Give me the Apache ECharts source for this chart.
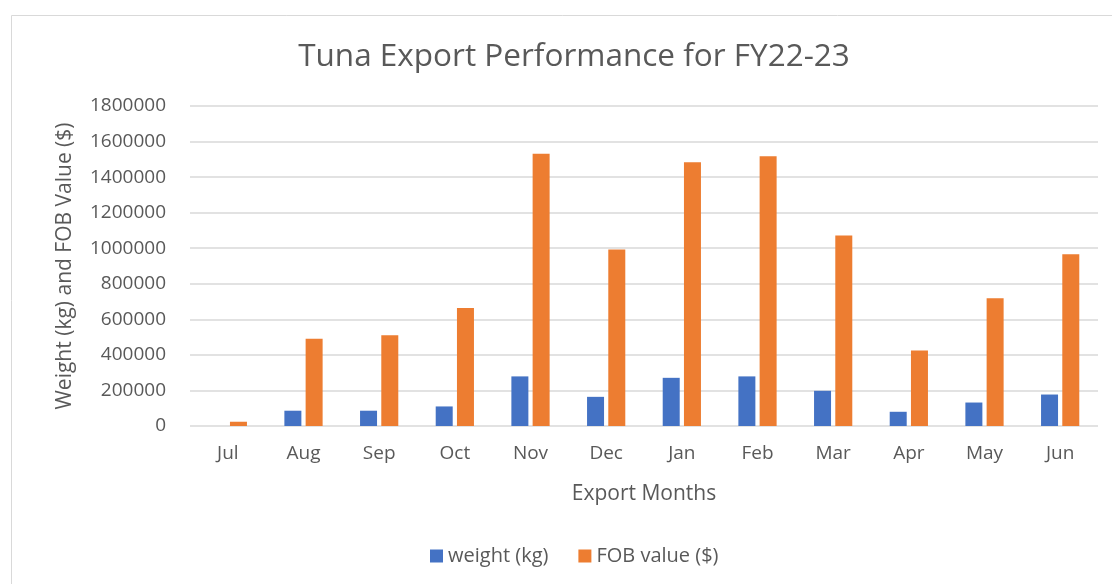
<!DOCTYPE html>
<html>
<head>
<meta charset="utf-8">
<script src="https://cdn.jsdelivr.net/npm/echarts@6/dist/echarts.min.js"></script>
<style>
  html, body { margin: 0; padding: 0; background: #fff; }
  #chart { width: 1112px; height: 584px; }
</style>
</head>
<body>
<div id="chart"></div>
<script>
const months = ["Jul", "Aug", "Sep", "Oct", "Nov", "Dec", "Jan", "Feb", "Mar", "Apr", "May", "Jun"];
const weightKg = [0, 86000, 86000, 110000, 279000, 164000, 271000, 279000, 198000, 80000, 132000, 177000];
const fobValue = [24000, 491000, 511000, 664000, 1531000, 993000, 1484000, 1518000, 1071000, 424000, 718000, 966000];

const font = "'Open Sans', 'Liberation Sans', sans-serif";
const textColor = "#595959";

const chart = echarts.init(document.getElementById("chart"));
chart.setOption({
  animation: false,
  textStyle: { fontFamily: font },
  graphic: [
    {
      type: "rect",
      shape: { x: 11.5, y: 15.5, width: 1110, height: 600 },
      style: { fill: "none", stroke: "#d9d9d9", lineWidth: 1 }
    }
  ],
  title: {
    text: "Tuna Export Performance for FY22-23",
    left: 569,
    textAlign: "center",
    top: 36,
    textStyle: { fontFamily: font, fontSize: 31.5, fontWeight: "normal", color: textColor }
  },
  legend: {
    bottom: 13,
    left: 425,
    itemWidth: 13,
    itemHeight: 13,
    itemGap: 30,
    icon: "rect",
    textStyle: { fontFamily: font, fontSize: 20, color: textColor },
    data: ["weight (kg)", "FOB value ($)"]
  },
  grid: { left: 190, right: 14, top: 106, bottom: 158 },
  xAxis: {
    type: "category",
    data: months,
    name: "Export Months",
    nameLocation: "middle",
    nameGap: 58,
    nameTextStyle: { fontFamily: font, fontSize: 21, color: textColor },
    axisLine: { show: false },
    axisTick: { show: false },
    axisLabel: { fontFamily: font, fontSize: 19, color: textColor, margin: 18 }
  },
  yAxis: {
    type: "value",
    min: 0,
    max: 1800000,
    interval: 200000,
    name: "Weight (kg) and FOB Value ($)",
    nameLocation: "middle",
    nameGap: 114,
    nameTextStyle: { fontFamily: font, fontSize: 21, color: textColor },
    axisLabel: { fontFamily: font, fontSize: 19, color: textColor, margin: 24, formatter: (v) => String(v) },
    splitLine: { lineStyle: { color: "#d9d9d9", width: 1.5 } }
  },
  series: [
    {
      name: "weight (kg)",
      type: "bar",
      data: weightKg,
      barWidth: 17,
      barGap: "25%",
      itemStyle: { color: "#4472C4" }
    },
    {
      name: "FOB value ($)",
      type: "bar",
      data: fobValue,
      barWidth: 17,
      itemStyle: { color: "#ED7D31" }
    }
  ]
});
</script>
</body>
</html>
